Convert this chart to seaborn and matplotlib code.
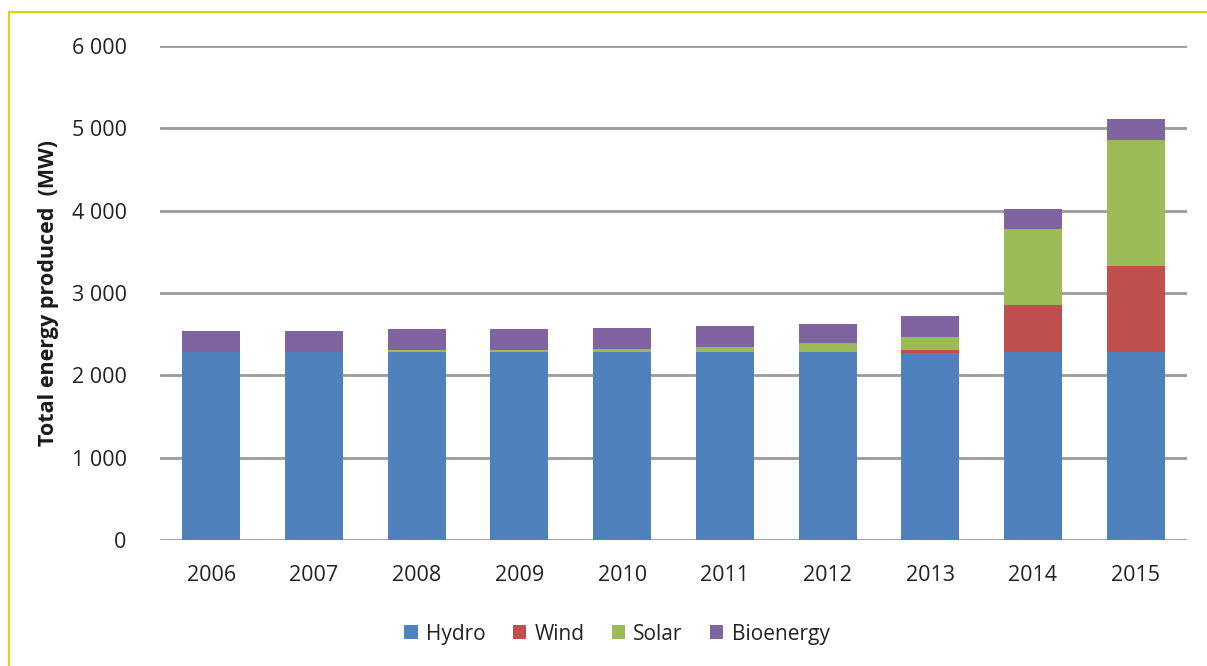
import matplotlib as mpl
import matplotlib.pyplot as plt
import pandas as pd
import seaborn as sns
from matplotlib.lines import Line2D
from matplotlib.patches import Patch

years = ["2006", "2007", "2008", "2009", "2010",
         "2011", "2012", "2013", "2014", "2015"]
hydro = [2280, 2280, 2280, 2280, 2280, 2280, 2280, 2270, 2280, 2280]
wind = [0, 0, 0, 0, 0, 0, 0, 40, 574, 1052]
solar = [0, 0, 25, 25, 40, 70, 110, 155, 923, 1526]
bioenergy = [255, 255, 255, 255, 255, 250, 235, 255, 243, 252]

series = ["Hydro", "Wind", "Solar", "Bioenergy"]
colors = ["#4f81bd", "#c0504d", "#9bbb59", "#8064a2"]

df = pd.DataFrame({"year": years, "Hydro": hydro, "Wind": wind,
                   "Solar": solar, "Bioenergy": bioenergy})

sns.set_theme(style="white")
plt.rcParams['font.family'] = ['Open Sans', 'DejaVu Sans']

fig = plt.figure(figsize=(12.07, 6.66), dpi=100)
ax = fig.add_axes([0.1326, 0.189, 0.8508, 0.742])

bottom = pd.Series([0] * len(years))
for name, col in zip(series, colors):
    sns.barplot(data=df, x="year", y=name, bottom=bottom.values, color=col,
                width=0.565, errorbar=None, saturation=1, ax=ax,
                linewidth=0)
    bottom = bottom + df[name]

ax.set_ylim(0, 6000)
ax.set_xlim(-0.5, len(years) - 0.5)
ax.set_yticks(range(0, 6001, 1000))
ax.set_yticklabels(["0" if v == 0 else f"{v // 1000} {v % 1000:03d}"
                    for v in range(0, 6001, 1000)])
ax.yaxis.grid(True, color="#9a9a9a", linewidth=2)
ax.set_axisbelow(True)
for s in ax.spines.values():
    s.set_visible(False)
ax.tick_params(axis="both", length=0, labelsize=15.5, colors="#222222")
for lab in ax.get_xticklabels() + ax.get_yticklabels():
    lab.set_fontweight("medium")
ax.tick_params(axis="y", pad=24)
ax.tick_params(axis="x", pad=18)
ax.set_xlabel("")
ax.set_ylabel("Total energy produced  (MW)", fontsize=15.5, fontweight="bold",
              color="#1a1a1a", labelpad=9)

handles = [Patch(facecolor=c, edgecolor="none") for c in colors]
leg = fig.legend(handles, series, loc="center", bbox_to_anchor=(0.511, 0.048),
                 ncol=4, frameon=False, fontsize=15, handlelength=0.65,
                 handleheight=0.65, handletextpad=0.4, columnspacing=1.3)
for t in leg.get_texts():
    t.set_color("#222222")
    t.set_fontweight("medium")

# yellow frame on the left and top
ycol = "#d8d800"
fig.add_artist(Line2D([9 / 1207, 1], [1 - 12 / 666, 1 - 12 / 666],
                      transform=fig.transFigure, color=ycol, linewidth=1.5))
fig.add_artist(Line2D([9 / 1207, 9 / 1207], [0, 1 - 12 / 666],
                      transform=fig.transFigure, color=ycol, linewidth=1.5))

fig.savefig("out.png", dpi=100)
